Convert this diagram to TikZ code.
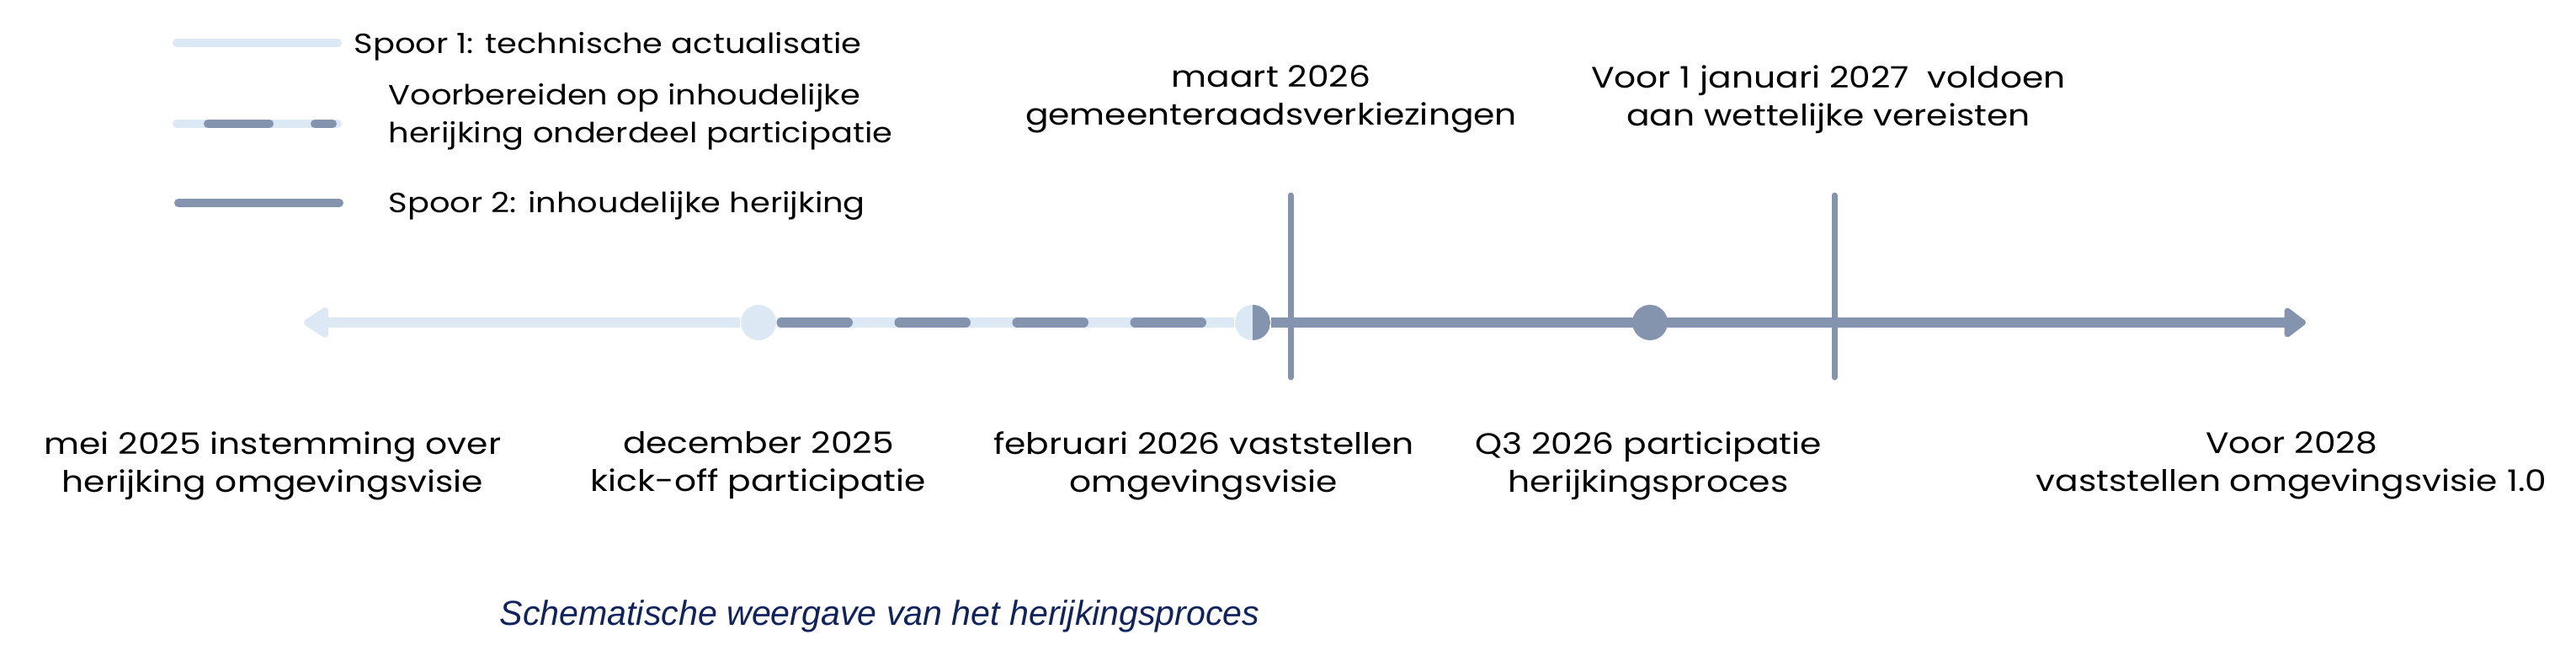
\documentclass[tikz,border=0pt]{standalone}
\usepackage{fontspec}
\setmainfont{Poppins}[FakeStretch=1.16]
\newfontfamily\bijschriftfont{Liberation Sans}
\usetikzlibrary{arrows.meta,positioning}
\definecolor{spoorlicht}{RGB}{221,232,245}
\definecolor{spoordonker}{RGB}{132,147,174}
\definecolor{donkerblauw}{RGB}{16,35,94}

\begin{document}
\begin{tikzpicture}[
lijn1/.style={line width=1.15mm, spoorlicht},
lijn2/.style={line width=1.15mm, spoordonker},
punt/.style={circle, inner sep=0pt, minimum size=4.2mm},
mijlpaal/.style={line width=0.7mm, spoordonker, line cap=round},
tekst/.style={inner sep=0pt, align=center, font=\fontsize{10}{12.8}\selectfont},
legtekst/.style={inner sep=0pt, align=left, font=\fontsize{9.4}{12.8}\selectfont},
legenda/.style={line width=1mm, line cap=round},
]
    % Afmetingen
    \useasboundingbox (0,0) rectangle (30.6,7.78);
    \def\as{3.95}

    % Punten op de tijdlijn
    \coordinate (begin) at (3.61,\as);
    \node [punt, fill=spoorlicht] (kickoff) at (9.01,\as) {};
    \node [punt, fill=spoorlicht, right of=kickoff, node distance=5.87cm,
           path picture={\fill[spoordonker] (path picture bounding box.north) rectangle (path picture bounding box.south east);}] (vaststellen) {};
    \node [punt, fill=spoordonker, right of=vaststellen, node distance=4.72cm] (participatie) {};
    \coordinate [right of=participatie, node distance=7.79cm] (einde);

    % Verticale markeringen
    \coordinate (maartboven) at (15.33,5.46);
    \coordinate (maartonder) at (15.33,3.30);
    \coordinate (janboven) at (21.79,5.46);
    \coordinate (janonder) at (21.79,3.30);

    % Tijdlijn
    \draw [lijn1, {Triangle[length=3.3mm, width=4mm, round]}-] (begin) -- (kickoff.west);
    \draw [lijn1] (kickoff.east) -- (vaststellen.west);
    \draw [lijn2, line cap=round, dash pattern=on 7.9mm off 6.1mm, shorten <=0.55mm] (kickoff.east) -- (vaststellen.west);
    \draw [lijn2, -{Triangle[length=2.8mm, width=4mm, round]}] (vaststellen.east) -- (einde);
    \draw [mijlpaal] (maartboven) -- (maartonder);
    \draw [mijlpaal] (janboven) -- (janonder);

    % Teksten boven
    \node [tekst, anchor=south] (maart) at (15.10,6.19) {maart 2026\\gemeenteraadsverkiezingen};
    \node [tekst, anchor=south] (januari) at (21.72,6.19) {Voor 1 januari 2027 \ voldoen\\aan wettelijke vereisten};

    % Teksten onder
    \node [tekst, anchor=north] (mei) at (3.24,2.66) {mei 2025 instemming over\\herijking omgevingsvisie};
    \node [tekst, anchor=north] (december) at (9.01,2.66) {december 2025\\kick-off participatie};
    \node [tekst, anchor=north] (februari) at (14.30,2.66) {februari 2026 vaststellen\\omgevingsvisie};
    \node [tekst, anchor=north] (q3) at (19.58,2.66) {Q3 2026 participatie\\herijkingsproces};
    \node [tekst, anchor=north] (voor2028) at (27.22,2.66) {Voor 2028\\vaststellen omgevingsvisie 1.0};

    % Legenda
    \coordinate (l1a) at (2.10,7.27);
    \coordinate (l1b) at (4.01,7.27);
    \coordinate (l2a) at (2.10,6.31);
    \coordinate (l2b) at (4.01,6.31);
    \coordinate (l3a) at (2.12,5.37);
    \coordinate (l3b) at (4.03,5.37);
    \draw [legenda, spoorlicht] (l1a) -- (l1b);
    \draw [legenda, spoorlicht] (l2a) -- (l2b);
    \draw [legenda, spoordonker, dash pattern=on 7.3mm off 5.4mm, shorten <=3.7mm, shorten >=0.6mm] (l2a) -- (l2b);
    \draw [legenda, spoordonker] (l3a) -- (l3b);
    \node [legtekst, anchor=base west] (spoor1) at (4.20,7.15) {Spoor 1: technische actualisatie};
    \node [legtekst, anchor=north west] (voorbereiden) at (4.61,6.79) {Voorbereiden op inhoudelijke\\herijking onderdeel participatie};
    \node [legtekst, anchor=base west] (spoor2) at (4.61,5.26) {Spoor 2: inhoudelijke herijking};

    % Bijschrift
    \node [anchor=base west, inner sep=0pt, text=donkerblauw, font=\bijschriftfont\itshape\fontsize{11.7}{14}\selectfont] (bijschrift) at (5.93,0.36) {Schematische weergave van het herijkingsproces};
\end{tikzpicture}
\end{document}
